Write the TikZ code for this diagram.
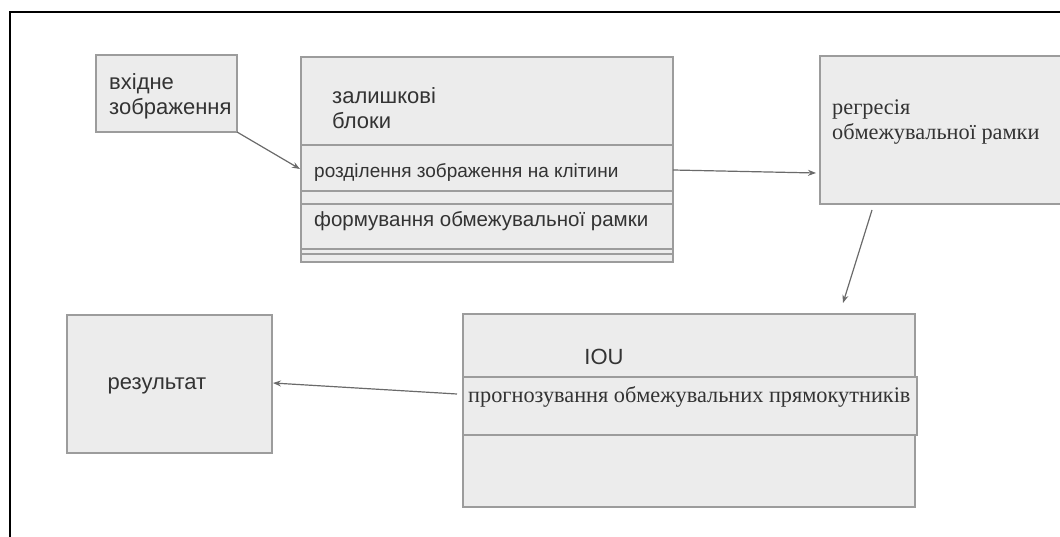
\documentclass[tikz,border=0pt]{standalone}
\usepackage{fontspec}
\setmainfont{Liberation Serif}
\setsansfont{Liberation Sans}
\usetikzlibrary{arrows.meta,calc}
\definecolor{boxfill}{HTML}{ECECEC}
\definecolor{boxline}{HTML}{9C9C9C}
\definecolor{inkgray}{HTML}{333333}
\definecolor{wiregray}{HTML}{6A6A6A}
\tikzset{
  panel/.style={draw=boxline, fill=boxfill, line width=1.3pt, inner sep=0pt, outer sep=0pt, anchor=north west},
  sanslabel/.style={font=\sffamily\fontsize{22}{25}\selectfont, text=inkgray, inner sep=0pt, align=left},
  rowlabel/.style={font=\sffamily\fontsize{19.6}{24}\selectfont, text=inkgray, inner sep=0pt, align=left},
  seriflabel/.style={font=\rmfamily\fontsize{22.3}{24.5}\selectfont, text=inkgray, inner sep=0pt, align=left},
  flow/.style={draw=wiregray, line width=1.2pt, -{Stealth[length=8pt,width=6pt]}}
}
\begin{document}
\begin{tikzpicture}[x=1pt,y=-1pt]
\useasboundingbox (0,0) rectangle (1060,537);
\begin{scope}
\clip (0,0) rectangle (1060,537);
% page frame (top and left edges)
\draw[line width=1.3pt, black] (10,537) -- (10,12) -- (1060,12);

% input image
\node[panel, minimum width=141pt, minimum height=77pt] (inp) at (96,55) {};
\node[sanslabel, anchor=west] (inptxt) at (109,96) {вхідне\\зображення};

% residual blocks with their rows
\node[panel, minimum width=372pt, minimum height=205pt] (blk) at (301,57) {};
\node[panel, minimum width=372pt, minimum height=46pt] (split) at (301,145) {};
\node[panel, minimum width=372pt, minimum height=45pt] (form) at (301,204) {};
\node[panel, minimum width=372pt, minimum height=8pt] (foot) at (301,254) {};
\node[sanslabel, anchor=west] (blktxt) at (332,108) {залишкові\\блоки};
\node[rowlabel, anchor=west, font=\sffamily\fontsize{19}{24}\selectfont] (splittxt) at (314,173) {розділення зображення на клітини};
\node[rowlabel, anchor=west, font=\sffamily\fontsize{20.5}{24}\selectfont] (formtxt) at (314,221) {формування обмежувальної рамки};

% bounding box regression
\node[panel, minimum width=300pt, minimum height=148pt] (reg) at (820,56) {};
\node[seriflabel, anchor=west] (regtxt) at (832,122) {регресія\\обмежувальної рамки};

% IOU block
\node[panel, minimum width=452pt, minimum height=193pt] (iou) at (463,314) {};
\node[panel, minimum width=454pt, minimum height=58pt] (band) at (463,377) {};
\node[sanslabel] (ioutxt) at (604,357) {IOU};
\node[seriflabel, anchor=west] (bandtxt) at (468,397) {прогнозування обмежувальних прямокутників};

% result
\node[panel, minimum width=205pt, minimum height=138pt] (out) at (67,315) {};
\node[sanslabel] (outtxt) at (157,386) {результат};

% connectors
\draw[flow] (inp.south east) -- ($(split.west)+(-1,1)$);
\draw[flow] ($(split.east)+(0,2)$) -- ($(split.east -| reg.west)+(-4,5)$);
\draw[flow] ($(reg.south west)+(52,6)$) -- ($(iou.north west)+(380,-11)$);
\draw[flow] ($(band.west)+(-6,-12)$) -- ($(out.east)+(1,-1)$);
\end{scope}
\end{tikzpicture}
\end{document}
